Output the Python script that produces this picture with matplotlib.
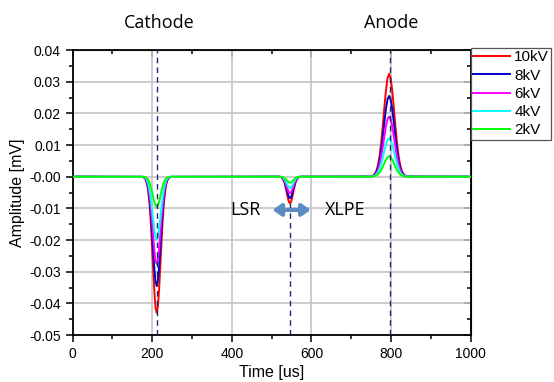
import numpy as np
import matplotlib
matplotlib.use("Agg")
import matplotlib.pyplot as plt
from matplotlib.ticker import MultipleLocator, FormatStrFormatter

# ---- data ----
series_labels = ["10kV", "8kV", "6kV", "4kV", "2kV"]
series_colors = ["#ff0000", "#0000cc", "#ff00ff", "#00ffff", "#00ff00"]

# pulse centres [us]
cathode_center = 211
lsr_center = 546
anode_center = 795

# peak amplitudes [mV] for each voltage
cathode_amp = [-0.043, -0.0345, -0.0275, -0.020, -0.0095]
lsr_amp = [-0.0084, -0.0068, -0.0052, -0.0036, -0.0019]
anode_amp = [0.0325, 0.0255, 0.0190, 0.0122, 0.0064]

# half pulse shape (normalised), sampled from the centre outwards
half_shape = [1.0, 0.956, 0.835, 0.667, 0.487, 0.325, 0.198, 0.110,
              0.056, 0.026, 0.011, 0.0043, 0.0015]
# sample spacing of each pulse [us]
cathode_step = 3.0
lsr_step = 2.4
anode_step = 4.0

t_start, t_end = 0, 1000

# ---- build waveforms ----
shape = np.array(half_shape[:0:-1] + half_shape)
k = np.arange(-(len(half_shape) - 1), len(half_shape))

t = np.concatenate([[t_start],
                    cathode_center + cathode_step * k,
                    lsr_center + lsr_step * k,
                    anode_center + anode_step * k,
                    [t_end]])

fig = plt.figure(figsize=(5.54, 3.82), dpi=100)
ax = fig.add_axes([0.1312, 0.123, 0.7184, 0.746])

for lab, col, ca, la, aa in zip(series_labels, series_colors,
                                cathode_amp, lsr_amp, anode_amp):
    y = np.concatenate([[0], ca * shape, la * shape, aa * shape, [0]])
    ax.plot(t, y, color=col, lw=1.4, label=lab, zorder=3)

# dashed markers
dash_col = "#1a2a6c"
ax.axvline(cathode_center + 2, color=dash_col, ls=(0, (4, 3)), lw=1.0, zorder=4)
ax.axvline(anode_center + 2, color=dash_col, ls=(0, (4, 3)), lw=1.0, zorder=4)
ax.plot([lsr_center + 1, lsr_center + 1], [-0.05, -0.008], color=dash_col,
        ls=(0, (4, 3)), lw=1.0, zorder=4)

ax.set_xlim(0, 1000)
ax.set_ylim(-0.05, 0.04)
ax.xaxis.set_major_locator(MultipleLocator(200))
ax.xaxis.set_minor_locator(MultipleLocator(100))
ax.yaxis.set_major_locator(MultipleLocator(0.01))
ax.yaxis.set_minor_locator(MultipleLocator(0.005))
ax.yaxis.set_major_formatter(FormatStrFormatter("%.2f"))

ax.grid(True, which="major", color="#c4c4c4", lw=1.2, zorder=0)
ax.set_axisbelow(True)

for s in ax.spines.values():
    s.set_linewidth(1.3)
ax.tick_params(which="both", direction="out", top=False, right=False,
               labelsize=10, width=1.1)
ax.tick_params(which="major", length=5)
ax.tick_params(which="minor", length=3)
ax2 = ax.secondary_xaxis("top")
ax2.xaxis.set_major_locator(MultipleLocator(200))
ax2.xaxis.set_minor_locator(MultipleLocator(100))
ax2.tick_params(which="both", direction="in", labeltop=False, width=1.1)
ax2.tick_params(which="major", length=5)
ax2.tick_params(which="minor", length=3)
ax3 = ax.secondary_yaxis("right")
ax3.yaxis.set_major_locator(MultipleLocator(0.01))
ax3.yaxis.set_minor_locator(MultipleLocator(0.005))
ax3.tick_params(which="both", direction="in", labelright=False, width=1.1)
ax3.tick_params(which="major", length=5)
ax3.tick_params(which="minor", length=3)

for lbl in ax.get_xticklabels() + ax.get_yticklabels():
    lbl.set_family(["Liberation Sans", "DejaVu Sans"])

ax.set_xlabel("Time [us]", fontsize=11.5, family=["Liberation Sans"], labelpad=3)
ax.set_ylabel("Amplitude [mV]", fontsize=11.5, family=["Liberation Sans"], labelpad=3)

# annotations
tfont = dict(family=["Open Sans", "DejaVu Sans"], fontsize=13, color="black")
fig.text(159 / 554, 1 - 23 / 382, "Cathode", ha="center", va="center", **tfont)
fig.text(391 / 554, 1 - 23 / 382, "Anode", ha="center", va="center", **tfont)
ax.text(435, -0.0105, "LSR", ha="center", va="center", zorder=6, **tfont)
ax.text(684, -0.0105, "XLPE", ha="center", va="center", zorder=6, **tfont)
ax.annotate("", xy=(598, -0.0105), xytext=(502, -0.0105),
            arrowprops=dict(arrowstyle="<|-|>,head_length=0.5,head_width=0.35",
                            color="#5b8cc4", lw=3, shrinkA=0, shrinkB=0),
            zorder=6)

leg = ax.legend(loc="upper left", bbox_to_anchor=(1.0, 1.007), frameon=True,
                fancybox=False, edgecolor="#555555", framealpha=1,
                prop=dict(family="Liberation Sans", size=11),
                handlelength=2.4, handletextpad=0.3, labelspacing=0.28,
                borderpad=0.15, borderaxespad=0)
leg.get_frame().set_linewidth(0.9)

fig.savefig("out.png", dpi=100)
